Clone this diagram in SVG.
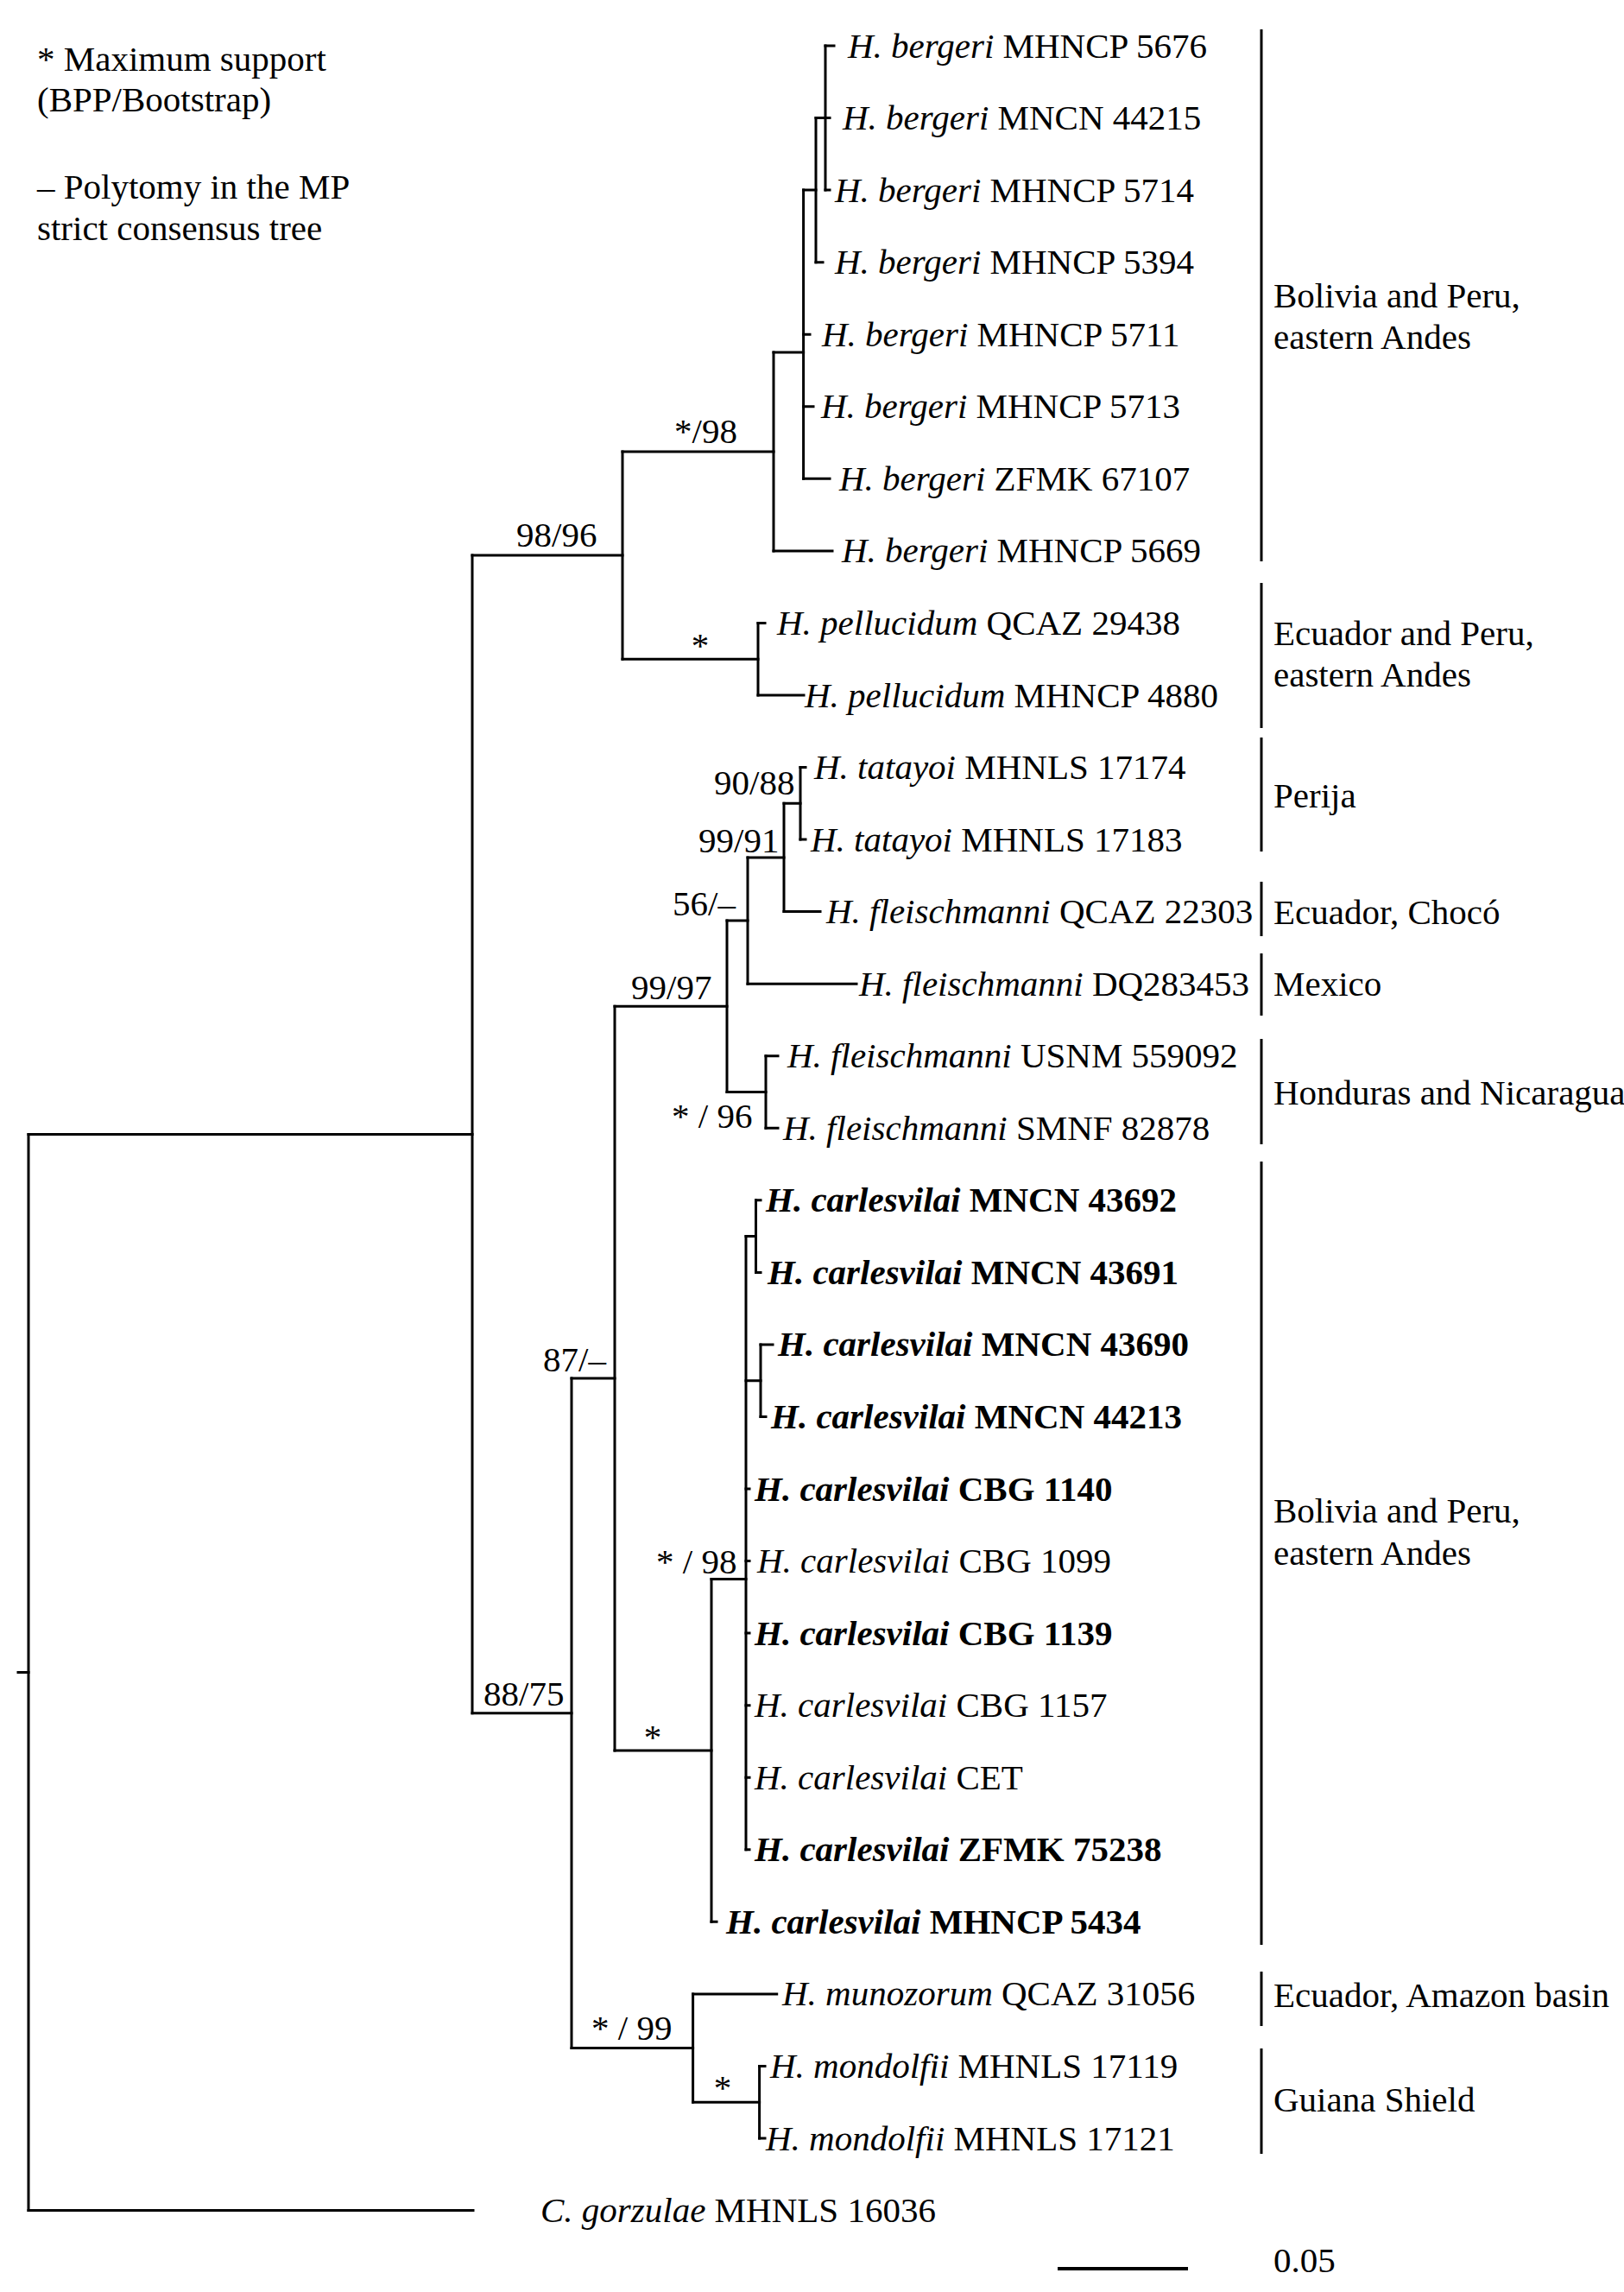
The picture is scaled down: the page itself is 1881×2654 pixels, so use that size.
<svg xmlns="http://www.w3.org/2000/svg" width="1881" height="2654" viewBox="0 0 1881 2654">
<style>
text{font-family:"Liberation Serif","Times New Roman",serif;font-size:41px;fill:#000}
.i{font-style:italic}
.b{font-weight:bold}
.br{stroke:#000;stroke-width:3;fill:none;stroke-linecap:square}
.bar{stroke:#000;stroke-width:3}
.m{text-anchor:middle}
</style>
<rect width="1881" height="2654" fill="#fff"/>
<g id="legend">
<text x="43" y="82">* Maximum support</text>
<text x="43" y="129">(BPP/Bootstrap)</text>
<text x="43" y="230">– Polytomy in the MP</text>
<text x="43" y="278">strict consensus tree</text>
</g>
<g id="branches" class="br">
<path d="M956 53V220.1M945 136.6V303.7M930.6 220.1V554.3M896 408.1V637.9M878 721.4V805M721 523V763.2M927 888.5V972.1M908 930.3V1055.6M866 993V1139.2M887 1222.7V1306.3M842 1066.1V1264.5M875.5 1389.8V1473.4M881 1556.9V1640.5M864 1431.6V2141.8M824 1828.5V2225.3M712 1165.3V2026.9M879.6 2392.4V2476M802.6 2308.9V2434.2M662 1596.1V2371.5M547 643.1V1983.8M33 1313.5V2559.5"/>
<path d="M945 136.6H956M930.6 220.1H945M896 408.1H930.6M721 523H896M721 763.2H878M547 643.1H721M908 930.3H927M866 993H908M842 1066.1H866M842 1264.5H887M712 1165.3H842M864 1431.6H875.5M864 1598.7H881M824 1828.5H864M712 2026.9H824M662 1596.1H712M802.6 2434.2H879.6M662 2371.5H802.6M547 1983.8H662M33 1313.5H547M21 1936.5H33M33 2559.5H548"/>
<path d="M956 53H966M956 136.6H961M956 220.1H961M945 303.7H953M930.6 387.2H938M930.6 470.8H942M930.6 554.3H961M896 637.9H964M878 721.4H886M878 805H931M927 888.5H933M927 972.1H933M908 1055.6H950M866 1139.2H992M887 1222.7H901M887 1306.3H901M875.5 1389.8H881M875.5 1473.4H881M881 1556.9H895M881 1640.5H887M864 1724H868M864 1807.6H868M864 1891.1H868M864 1974.7H868M864 2058.2H868M864 2141.8H868M824 2225.3H830M802.6 2308.9H899.7M879.6 2392.4H886M879.6 2476H886"/>
</g>
<g id="support">
<text x="781" y="513">*/98</text>
<text x="598" y="633">98/96</text>
<text class="m" x="811" y="761">*</text>
<text x="827" y="920">90/88</text>
<text x="809" y="987">99/91</text>
<text x="779" y="1060">56/–</text>
<text x="731" y="1157">99/97</text>
<text x="778" y="1306">* / 96</text>
<text x="629" y="1588">87/–</text>
<text x="760" y="1822">* / 98</text>
<text x="560" y="1975">88/75</text>
<text class="m" x="756" y="2025">*</text>
<text x="685" y="2362">* / 99</text>
<text class="m" x="837" y="2431">*</text>
</g>
<g id="tip1"><text x="982" y="66.5"><tspan class="i">H. bergeri</tspan> MHNCP 5676</text></g>
<g id="tip2"><text x="976" y="150"><tspan class="i">H. bergeri</tspan> MNCN 44215</text></g>
<g id="tip3"><text x="967" y="233.6"><tspan class="i">H. bergeri</tspan> MHNCP 5714</text></g>
<g id="tip4"><text x="967" y="317.2"><tspan class="i">H. bergeri</tspan> MHNCP 5394</text></g>
<g id="tip5"><text x="952" y="400.7"><tspan class="i">H. bergeri</tspan> MHNCP 5711</text></g>
<g id="tip6"><text x="951" y="484.3"><tspan class="i">H. bergeri</tspan> MHNCP 5713</text></g>
<g id="tip7"><text x="972" y="567.8"><tspan class="i">H. bergeri</tspan> ZFMK 67107</text></g>
<g id="tip8"><text x="975" y="651.4"><tspan class="i">H. bergeri</tspan> MHNCP 5669</text></g>
<g id="tip9"><text x="900" y="734.9"><tspan class="i">H. pellucidum</tspan> QCAZ 29438</text></g>
<g id="tip10"><text x="932" y="818.5"><tspan class="i">H. pellucidum</tspan> MHNCP 4880</text></g>
<g id="tip11"><text x="943" y="902"><tspan class="i">H. tatayoi</tspan> MHNLS 17174</text></g>
<g id="tip12"><text x="939" y="985.6"><tspan class="i">H. tatayoi</tspan> MHNLS 17183</text></g>
<g id="tip13"><text x="957" y="1069.1"><tspan class="i">H. fleischmanni</tspan> QCAZ 22303</text></g>
<g id="tip14"><text x="995" y="1152.7"><tspan class="i">H. fleischmanni</tspan> DQ283453</text></g>
<g id="tip15"><text x="912" y="1236.2"><tspan class="i">H. fleischmanni</tspan> USNM 559092</text></g>
<g id="tip16"><text x="907" y="1319.8"><tspan class="i">H. fleischmanni</tspan> SMNF 82878</text></g>
<g id="tip17"><text class="b" x="887" y="1403.3"><tspan class="i">H. carlesvilai</tspan> MNCN 43692</text></g>
<g id="tip18"><text class="b" x="889" y="1486.9"><tspan class="i">H. carlesvilai</tspan> MNCN 43691</text></g>
<g id="tip19"><text class="b" x="901" y="1570.4"><tspan class="i">H. carlesvilai</tspan> MNCN 43690</text></g>
<g id="tip20"><text class="b" x="893" y="1654"><tspan class="i">H. carlesvilai</tspan> MNCN 44213</text></g>
<g id="tip21"><text class="b" x="874" y="1737.5"><tspan class="i">H. carlesvilai</tspan> CBG 1140</text></g>
<g id="tip22"><text x="877" y="1821.1"><tspan class="i">H. carlesvilai</tspan> CBG 1099</text></g>
<g id="tip23"><text class="b" x="874" y="1904.6"><tspan class="i">H. carlesvilai</tspan> CBG 1139</text></g>
<g id="tip24"><text x="874" y="1988.2"><tspan class="i">H. carlesvilai</tspan> CBG 1157</text></g>
<g id="tip25"><text x="874" y="2071.7"><tspan class="i">H. carlesvilai</tspan> CET</text></g>
<g id="tip26"><text class="b" x="874" y="2155.3"><tspan class="i">H. carlesvilai</tspan> ZFMK 75238</text></g>
<g id="tip27"><text class="b" x="841" y="2238.8"><tspan class="i">H. carlesvilai</tspan> MHNCP 5434</text></g>
<g id="tip28"><text x="906" y="2322.4"><tspan class="i">H. munozorum</tspan> QCAZ 31056</text></g>
<g id="tip29"><text x="892" y="2405.9"><tspan class="i">H. mondolfii</tspan> MHNLS 17119</text></g>
<g id="tip30"><text x="887" y="2489.5"><tspan class="i">H. mondolfii</tspan> MHNLS 17121</text></g>
<g id="tip31"><text x="626" y="2573"><tspan class="i">C. gorzulae</tspan> MHNLS 16036</text></g>
<g id="region1"><line class="bar" x1="1461" y1="34" x2="1461" y2="650"/><text x="1475" y="356">Bolivia and Peru,</text><text x="1475" y="404">eastern Andes</text></g>
<g id="region2"><line class="bar" x1="1461" y1="675" x2="1461" y2="843"/><text x="1475" y="747">Ecuador and Peru,</text><text x="1475" y="795">eastern Andes</text></g>
<g id="region3"><line class="bar" x1="1461" y1="854" x2="1461" y2="986"/><text x="1475" y="935">Perija</text></g>
<g id="region4"><line class="bar" x1="1461" y1="1021" x2="1461" y2="1084"/><text x="1475" y="1070">Ecuador, Chocó</text></g>
<g id="region5"><line class="bar" x1="1461" y1="1104" x2="1461" y2="1176"/><text x="1475" y="1153">Mexico</text></g>
<g id="region6"><line class="bar" x1="1461" y1="1203" x2="1461" y2="1325"/><text x="1475" y="1279">Honduras and Nicaragua</text></g>
<g id="region7"><line class="bar" x1="1461" y1="1345" x2="1461" y2="2252"/><text x="1475" y="1763">Bolivia and Peru,</text><text x="1475" y="1812">eastern Andes</text></g>
<g id="region8"><line class="bar" x1="1461" y1="2283" x2="1461" y2="2346"/><text x="1475" y="2324">Ecuador, Amazon basin</text></g>
<g id="region9"><line class="bar" x1="1461" y1="2372" x2="1461" y2="2494"/><text x="1475" y="2445">Guiana Shield</text></g>
<g id="scale"><line x1="1225" y1="2627" x2="1376" y2="2627" stroke="#000" stroke-width="4"/><text x="1475" y="2631">0.05</text></g>
</svg>
